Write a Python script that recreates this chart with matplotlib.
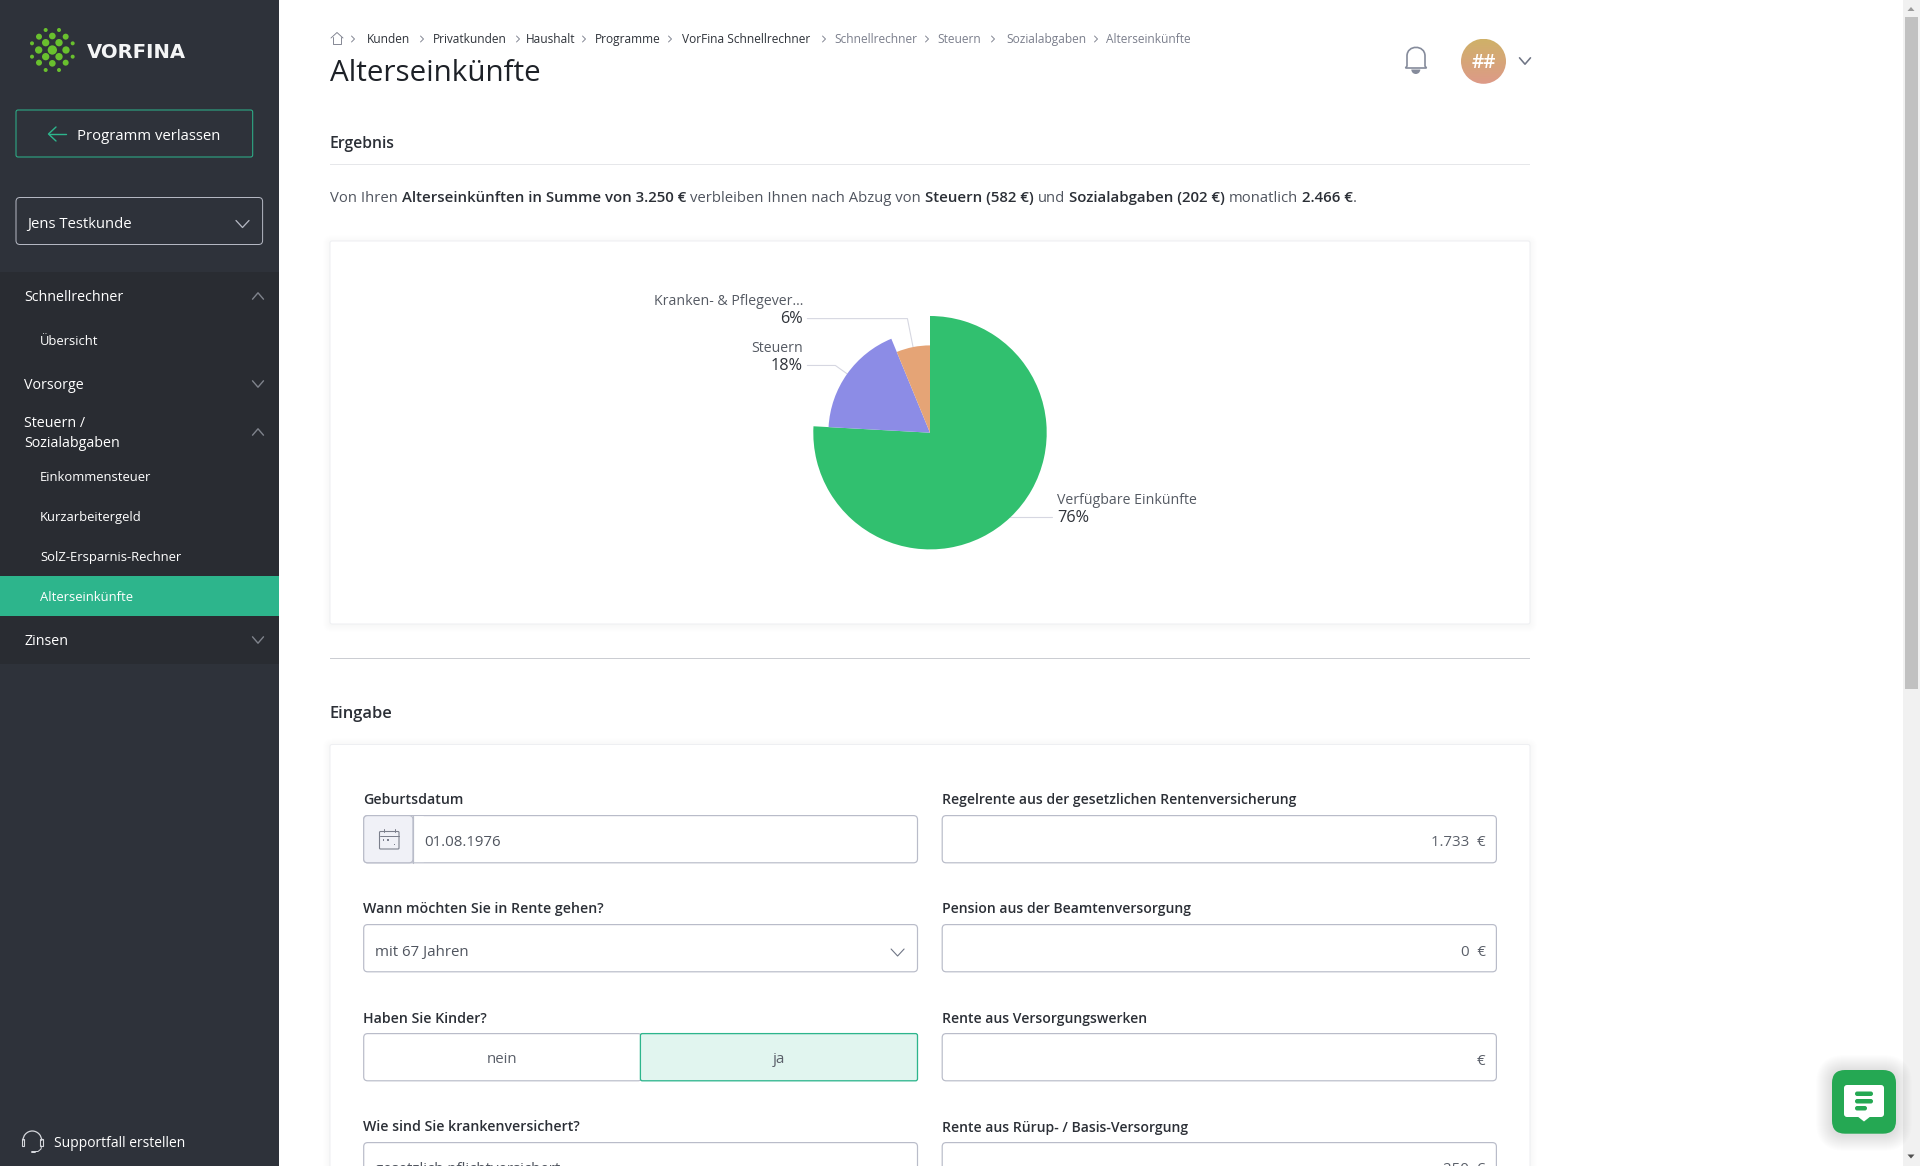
import numpy as np
import matplotlib
matplotlib.use("Agg")
import matplotlib.pyplot as plt
from matplotlib.patches import FancyBboxPatch, Rectangle, Circle, Polygon, Arc, PathPatch, Wedge
from matplotlib.path import Path

W, H = 1920, 1166

# ---- chart data -------------------------------------------------------
categories = ["Verfügbare Einkünfte", "Steuern", "Kranken- & Pflegever..."]
values = [2466, 582, 202]
percent_labels = ["76%", "18%", "6%"]

# ---- page text ---------------------------------------------------------
breadcrumb = ["Kunden", "Privatkunden", "Haushalt", "Programme", "VorFina Schnellrechner",
              "Schnellrechner", "Steuern", "Sozialabgaben", "Alterseinkünfte"]
crumb_x = [366.5, 432.5, 525.5, 594.4, 682, 834, 937, 1006, 1106]
sep_x = [353, 422, 518, 584, 670, 824, 927, 993, 1096]
menu = [("Schnellrechner", 24.5, 296, 14.3), ("Übersicht", 40, 340, 13), ("Vorsorge", 24.5, 384, 14.3),
        ("Steuern /", 24.5, 422, 14.3), ("Sozialabgaben", 24.5, 442, 14.3), ("Einkommensteuer", 40, 476, 13),
        ("Kurzarbeitergeld", 40, 516, 13), ("SolZ-Ersparnis-Rechner", 40, 556, 13),
        ("Alterseinkünfte", 40, 596, 13), ("Zinsen", 24.5, 640, 14.3)]

SANS = "Open Sans"
plt.rcParams["font.family"] = [SANS, "DejaVu Sans"]
DARK = "#2b2f36"
GREY = "#7b7f8c"
TEAL = "#2db58c"
BORDER = "#b9bcc9"

fig = plt.figure(figsize=(W / 100, H / 100), dpi=100, facecolor="white")
ax = fig.add_axes([0, 0, 1, 1])
ax.set_xlim(0, W)
ax.set_ylim(H, 0)
ax.axis("off")


def T(x, y, s, px=14.7, color=DARK, weight="normal", ha="left", family=None, z=10):
    """Text whose visual middle sits at pixel row y."""
    return ax.text(x, y + 0.36 * px, s, fontsize=px * 0.72, color=color, fontweight=weight,
                   ha=ha, va="baseline", zorder=z, family=family or SANS)


def box(x0, y0, x1, y1, fc="white", ec=BORDER, lw=1.2, r=4, z=3, alpha=None):
    p = FancyBboxPatch((x0, y0), x1 - x0, y1 - y0, boxstyle=f"round,pad=0,rounding_size={r}",
                       fc=fc, ec=ec, lw=lw * 0.72, zorder=z, alpha=alpha)
    ax.add_patch(p)
    return p


def rect(x0, y0, x1, y1, c, z=1):
    ax.add_patch(Rectangle((x0, y0), x1 - x0, y1 - y0, fc=c, ec="none", zorder=z))


def line(xs, ys, c, lw=1.0, z=5):
    ax.plot(xs, ys, color=c, lw=lw * 0.72, zorder=z, solid_capstyle="round", solid_joinstyle="round")


def chevron(x, y, hw, hh, c, up=False, lw=1.3, z=6):
    s = -1 if up else 1
    line([x - hw, x, x + hw], [y - s * hh, y + s * hh, y - s * hh], c, lw, z)


def shadow(x0, y0, x1, y1, r=4, spread=10, a=0.012, z=1):
    for i in range(spread, 0, -1):
        box(x0 - i, y0 - i + 1, x1 + i, y1 + i + 1, fc="black", ec="none", lw=0, r=r + i, z=z, alpha=a)


# ---- sidebar -----------------------------------------------------------
rect(0, 0, 279, H, "#2e323a")
rect(0, 272, 279, 664, "#292c32", z=1.1)
rect(0, 576, 279, 616, TEAL, z=1.2)

logo = [(157, 150, 14), (137, 128, 11), (177, 128, 11), (116, 150, 11), (198, 150, 11), (137, 170, 11),
        (177, 170, 11), (157, 108, 10), (157, 190, 10), (117, 110, 9), (197, 110, 9), (117, 188, 9),
        (197, 188, 9), (96, 130, 6), (218, 130, 6), (96, 170, 6), (218, 170, 6), (137, 90, 6),
        (177, 90, 6), (137, 210, 6), (177, 210, 6)]
for lx, ly, lr in logo:
    ax.add_patch(Circle((lx / 3, ly / 3), lr / 3, fc="#69c02e", ec="none", zorder=5))
T(87, 50.5, "VORFINA", px=19.6, color="#f4f5f6", weight="bold", family="DejaVu Sans")

box(16, 110, 252.7, 157, fc="none", ec=TEAL, lw=1.0, r=2)
line([66, 48.5], [134, 134], TEAL, 1.4)
line([56, 48.5, 56], [127, 134, 141], TEAL, 1.4)
T(77, 134.5, "Programm verlassen", px=14.9, color="white")

box(16, 197.5, 262.6, 244.5, fc="none", ec="#b4b7c2", lw=1.0, r=4)
T(27, 222.5, "Jens Testkunde", px=14.9, color="white")
chevron(242.5, 224, 6.5, 3.5, "#b4b7c2")

for s, x, y, px in menu:
    T(x, y, s, px=px, color="white")
for y, up in [(296, True), (384, False), (432, True), (640, False)]:
    chevron(258, y, 5.5, 3.2, "#7f838c", up=up, lw=1.4)

# headset icon
HS = "#d5d7dc"
ax.add_patch(Arc((32.3, 1141), 19, 20, theta1=180, theta2=360, ec=HS, lw=0.9, zorder=6))
ax.add_patch(Rectangle((21.8, 1139), 2.4, 7, fc="none", ec=HS, lw=0.8, zorder=6))
ax.add_patch(Rectangle((40.4, 1139), 2.4, 7, fc="none", ec=HS, lw=0.8, zorder=6))
line([41.5, 41, 38, 35], [1146, 1149, 1151.5, 1151.5], HS, 1)
line([31.5, 35], [1151.5, 1151.5], HS, 2)
T(54, 1142, "Supportfall erstellen", px=13.9, color="white")

# ---- header ------------------------------------------------------------
line([331, 337, 343], [38, 32.5, 38], "#7b7f8c", 0.9)
line([333, 333, 341, 341], [37, 44, 44, 37], "#7b7f8c", 0.9)
for i, (s, x, sx) in enumerate(zip(breadcrumb, crumb_x, sep_x)):
    c = "#2f333a" if i < 5 else GREY
    T(x, 39, s, px=11.95, color=c)
    line([sx - 1.5, sx + 1.5, sx - 1.5], [36, 39, 42], GREY, 0.9)
T(329.5, 70.5, "Alterseinkünfte", px=29.6, color="#1d2127", weight="medium")

T(329.5, 142, "Ergebnis", px=15.8, color="#2b2f36", weight="semibold")
rect(330, 164, 1530, 165, "#e6e7ea", z=2)

runs = [("Von Ihren", "normal"), ("Alterseinkünften in Summe von 3.250 €", "semibold"),
        ("verbleiben Ihnen nach Abzug von", "normal"), ("Steuern (582 €)", "semibold"), ("und", "normal"),
        ("Sozialabgaben (202 €)", "semibold"), ("monatlich", "normal"), ("2.466 €", "semibold"), (".", "normal")]
renderer = fig.canvas.get_renderer()
cx_run = 330.0
for i, (s, w) in enumerate(runs):
    t = T(cx_run, 197, s, px=15.0 if w == "semibold" else 14.9,
          color="#2b2f36" if w == "semibold" else "#50555f", weight=w)
    cx_run += t.get_window_extent(renderer).width + (0 if i >= len(runs) - 2 else 4.0)

# bell
bell = Path([(1405.5, 68), (1407, 66), (1407, 56), (1407, 44.5), (1425, 44.5), (1425, 56), (1425, 66), (1426.5, 68), (1405.5, 68)],
            [Path.MOVETO, Path.LINETO, Path.LINETO, Path.CURVE4, Path.CURVE4, Path.CURVE4, Path.LINETO, Path.LINETO, Path.CLOSEPOLY])
ax.add_patch(PathPatch(bell, fc="none", ec="#858b9b", lw=1.2, zorder=6))
ax.add_patch(Wedge((1415.8, 69.5), 4.5, 0, 180, fc="#858b9b", ec="none", zorder=6))

# avatar with vertical gradient
grad = np.linspace(0, 1, 64)[:, None, None]
rgb = (1 - grad) * np.array([207, 177, 104]) / 255 + grad * np.array([221, 154, 136]) / 255
im = ax.imshow(rgb, extent=(1461, 1506, 83.8, 38.8), zorder=5, aspect="auto")
im.set_clip_path(Circle((1483.5, 61.3), 22.5, transform=ax.transData))
ax.set_xlim(0, W)
ax.set_ylim(H, 0)
T(1483.5, 61, "##", px=19, color="white", weight="semibold", ha="center", z=7)
chevron(1525, 61, 5.5, 3.2, "#6f7585", lw=1.6)

# ---- chart card --------------------------------------------------------
shadow(330, 241, 1530, 624, r=2, spread=7, a=0.005)
box(330, 241, 1530, 624, fc="white", ec="#eeeff2", lw=1, r=2, z=2)
rect(330, 658, 1530, 659, "#cbcdd2", z=2)
T(329.5, 712.5, "Eingabe", px=16.5, color="#2b2f36", weight="semibold")

# ---- pie (radius varies per slice) --------------------------------------
PCX, PCY = 930.0, 432.7
PAD = 130
radii = [116.7, 101.6, 87.3]
pie_colors = ["#31c06f", "#8c8ce6", "#e5a476"]
pie_ax = fig.add_axes([(PCX - PAD) / W, 1 - (PCY + PAD) / H, 2 * PAD / W, 2 * PAD / H])
pie_ax.patch.set_alpha(0)
wedges, _ = pie_ax.pie(values, colors=pie_colors, startangle=90, counterclock=False, radius=1)
for wedge, r in zip(wedges, radii):
    wedge.set_radius(r)
pie_ax.set_xlim(-PAD, PAD)
pie_ax.set_ylim(-PAD, PAD)

# leader lines and labels, derived from the slice geometry
elbow = [0.0, 14.5, 29.0]
label_end = [1052.0, 807.3, 807.3]
label_x = [1057, 803, 803]
label_ha = ["left", "right", "right"]
for wedge, r, e, end, lx, ha, name, pct in zip(wedges, radii, elbow, label_end, label_x, label_ha,
                                              categories, percent_labels):
    a = np.radians((wedge.theta1 + wedge.theta2) / 2)
    x0, y0 = PCX + r * np.cos(a), PCY - r * np.sin(a)
    x1, y1 = PCX + (r + e) * np.cos(a), PCY - (r + e) * np.sin(a)
    line([x0, x1, end], [y0, y1, y1], "#d6d7e1", 1.1, z=4)
    T(lx, y1 - 1, pct, px=16.2, color="#2f333a", ha=ha)
    T(lx, y1 - 19, name, px=14.15, color="#555a63", ha=ha)

# ---- form card ---------------------------------------------------------
shadow(330, 744.5, 1530, 1190, r=2, spread=7, a=0.005)
box(330, 744.5, 1530, 1190, fc="white", ec="#eeeff2", lw=1, r=2, z=2)

LX0, LX1, RX0, RX1 = 363.7, 917.5, 942.2, 1496.4
left_labels = [("Geburtsdatum", 798.5), ("Wann möchten Sie in Rente gehen?", 907.5), ("Haben Sie Kinder?", 1017.5),
               ("Wie sind Sie krankenversichert?", 1125.5)]
right_labels = [("Regelrente aus der gesetzlichen Rentenversicherung", 798.5),
                ("Pension aus der Beamtenversorgung", 907.5), ("Rente aus Versorgungswerken", 1017.5),
                ("Rente aus Rürup- / Basis-Versorgung", 1126.5)]
for s, y in left_labels:
    T(LX0 - 1, y, s, px=14.1, color="#2b2f36", weight="semibold")
for s, y in right_labels:
    T(RX0, y, s, px=14, color="#2b2f36", weight="semibold")

tops = [815.6, 924.6, 1033.6, 1142.6]
for y in tops:
    box(RX0, y, RX1, y + 47.2)
for y in [tops[0], tops[1], tops[3]]:
    box(LX0, y, LX1, y + 47.2)
for s, y in [("1.733  €", 841), ("0  €", 951), ("€", 1060), ("250  €", 1168)]:
    T(1485.7, y, s, px=15, color="#5a5f69", ha="right")

# date field
box(LX0, tops[0], 413, tops[0] + 47.2, fc="#f0f1f7", r=4, z=3.5)
box(LX0 + 49.3, tops[0] + 0.7, LX0 + 60, tops[0] + 46.5, fc="white", ec="none", lw=0, r=0, z=3.6)
line([412.8, 412.8], [tops[0], tops[0] + 47.2], BORDER, 1.2)
box(379.5, 831.5, 399, 849, fc="none", ec="#7b7f8c", lw=1.1, r=1, z=5)
line([379.5, 399], [835.5, 835.5], "#7b7f8c", 1)
line([383.5, 383.5], [829, 832], "#7b7f8c", 1)
line([395, 395], [829, 832], "#7b7f8c", 1)
for dx, dy in [(383.5, 840), (388, 840), (394.5, 844.5)]:
    rect(dx - 0.9, dy - 0.9, dx + 0.9, dy + 0.9, "#7b7f8c", z=6)
T(424, 841, "01.08.1976", px=15, color="#50555f")

T(374.6, 951, "mit 67 Jahren", px=15, color="#50555f")
chevron(897.6, 952.5, 6.5, 3.5, "#6f7585", lw=1.1)

# toggle
box(LX0, tops[2], 642, tops[2] + 47.2)
box(640.4, tops[2], LX1, tops[2] + 47.2, fc="#e1f5ef", ec=TEAL, lw=1.3, r=2, z=4)
T(502, 1058, "nein", px=15, color="#5a5f69", ha="center")
T(778.6, 1058, "ja", px=15, color="#5a5f69", ha="center")
T(374.6, 1168, "gesetzlich pflichtversichert", px=15, color="#50555f")

# ---- scrollbar and chat button -----------------------------------------
rect(1903, 0, W, H, "#f1f1f1", z=1)
rect(1905, 17, 1918, 689, "#c1c1c1", z=2)
ax.add_patch(Polygon([(1907.5, 1154.5), (1914.5, 1154.5), (1911, 1158.5)], fc="#505050", ec="none", zorder=3))
ax.add_patch(Polygon([(1907.5, 11), (1914.5, 11), (1911, 7)], fc="#9a9a9a", ec="none", zorder=3))

shadow(1832, 1070, 1896, 1134, r=13, spread=16, a=0.008, z=5)
box(1832, 1070, 1896, 1133.7, fc="#25a853", ec="none", lw=0, r=13, z=6)
box(1844, 1085, 1884, 1117, fc="white", ec="none", lw=0, r=3, z=7)
ax.add_patch(Polygon([(1857, 1116), (1871, 1116), (1864, 1121.5)], fc="white", ec="none", zorder=7))
for y0, x1 in [(1091.5, 1873), (1099, 1873), (1106, 1867)]:
    box(1855, y0, x1, y0 + 4.5, fc="#25a853", ec="none", lw=0, r=2.2, z=8)

fig.savefig("out.png", dpi=100, facecolor="white")
